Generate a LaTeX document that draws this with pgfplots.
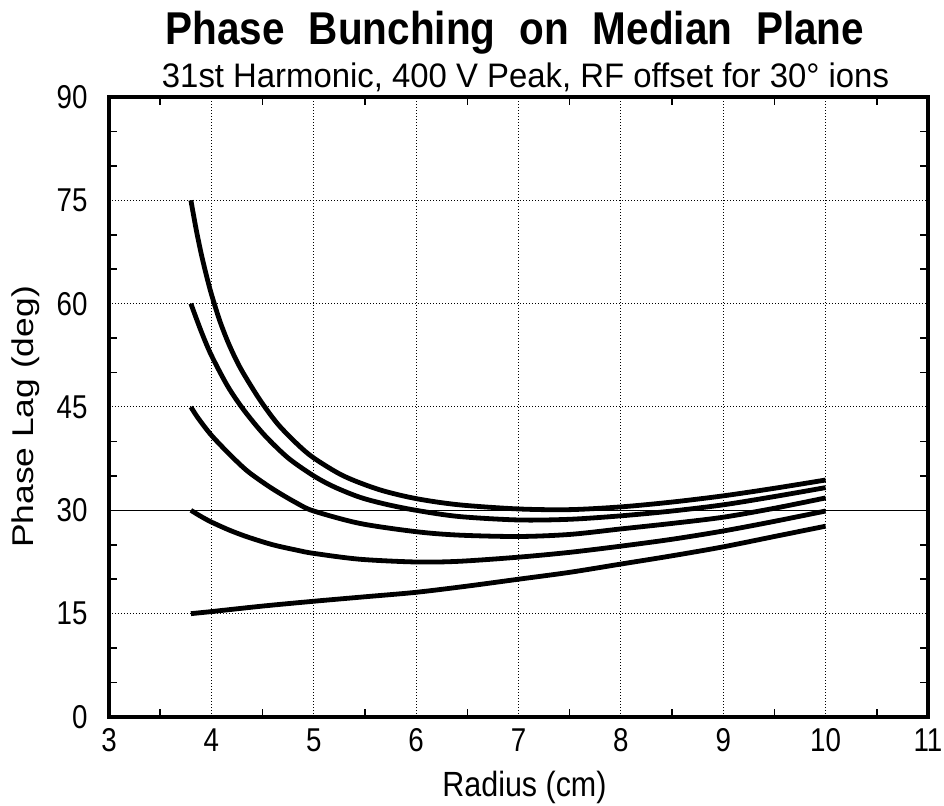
\documentclass[border=0pt]{standalone}
\usepackage{pgfplots}
\pgfplotsset{compat=1.18}
\usepackage{fontspec}
\setmainfont{Liberation Sans}
\newfontfamily\tickfont{Liberation Sans}[FakeStretch=0.84]
\newfontfamily\titlefont{Liberation Sans}[FakeStretch=0.88]
\newfontfamily\subfont{Liberation Sans}[FakeStretch=0.967]
\newfontfamily\xlabfont{Liberation Sans}[FakeStretch=0.87]
\newfontfamily\ylabfont{Liberation Sans}[FakeStretch=1.18]
\usetikzlibrary{calc}
\begin{document}
\begin{tikzpicture}
\begin{axis}[
  at={(0,0)}, anchor=south west,
  scale only axis,
  width=409.5pt, height=310pt,
  xmin=3, xmax=11, ymin=0, ymax=90,
  xtick={3,4,...,11}, ytick={0,15,...,90},
  minor x tick num=1, minor y tick num=2,
  tick align=inside,
  major tick length=0pt, minor tick length=4pt,
  every tick/.style={black, line width=0.8pt},
  axis line style={line width=1.6pt},
  grid=major,
  major grid style={black, line width=0.5pt, dash pattern=on 0.5pt off 1pt},
  /pgf/number format/assume math mode=true,
  ticklabel style={font=\tickfont\fontsize{16.5}{16.5}\selectfont},
  xticklabel style={yshift=-2.2pt},
  yticklabel style={xshift=-7.2pt},
  title={\titlefont\fontsize{23}{23}\selectfont\bfseries Phase\hspace{0.52em}Bunching\hspace{0.52em}on\hspace{0.52em}Median\hspace{0.52em}Plane},
  title style={at={(axis description cs:0.5,1)}, anchor=base, yshift=20.5pt, xshift=-1.75pt, inner sep=0pt},
  xlabel={Radius (cm)},
  xlabel style={font=\xlabfont\fontsize{17.5}{17.5}\selectfont, at={(axis description cs:0.5,0)}, anchor=base, yshift=-40pt, xshift=3pt, inner sep=0pt},
  ylabel={Phase Lag (deg)},
  ylabel style={font=\ylabfont\fontsize{15}{15}\selectfont, at={($(axis description cs:0,0.5)+(-37.5pt,-5pt)$)}, anchor=base, rotate=0, inner sep=0pt},
  extra description/.code={
    \node[anchor=base, inner sep=0pt, font=\subfont\fontsize{17}{17}\selectfont] at ($(0.5,1)+(3.5pt,5pt)$) {31st Harmonic, 400 V Peak, RF offset for 30° ions};
  },
  clip=false,
]
% reference line at 30
\addplot[black, line width=0.5pt] coordinates {(3,30) (11,30)};
% curve starting at 75
\addplot[black, line width=2.4pt, smooth] coordinates {
(3.8,75) (3.85,70.9) (3.9,67.3) (3.95,64.2) (4.0,61.4) (4.08,57.6) (4.16,54.5)
(4.24,51.9) (4.32,49.7) (4.48,45.9) (4.65,42.5) (4.84,39.6) (5.0,37.6)
(5.29,35.0) (5.64,33.0) (6.0,31.7) (6.42,30.8) (7.0,30.2)
(7.5,30.1) (8.0,30.5) (8.5,31.2) (9.0,32.1) (9.5,33.2) (10.0,34.4)};
% curve starting at 60
\addplot[black, line width=2.4pt, smooth] coordinates {
(3.8,60) (3.9,56.0) (4.0,52.5) (4.16,48.0) (4.32,44.5) (4.52,40.9) (4.75,37.6)
(5.0,35.0) (5.2,33.4) (5.45,31.9) (5.7,30.9) (6.0,30.0) (6.42,29.1) (7.0,28.6)
(7.5,28.7) (8.0,29.2) (8.5,29.9) (9.0,30.8) (9.5,32.0) (10.0,33.3)};
% curve starting at 45
\addplot[black, line width=2.4pt, smooth] coordinates {
(3.8,45) (3.87,43.4) (4.0,40.9) (4.18,38.1) (4.36,35.6) (4.6,33.1) (4.84,31.0)
(5.0,29.9) (5.45,28.1) (6.0,26.9) (6.42,26.4) (7.0,26.2) (7.5,26.5) (8.0,27.3)
(8.5,28.1) (9.0,29.0) (9.5,30.3) (10.0,31.8)};
% curve starting at 30
\addplot[black, line width=2.4pt, smooth] coordinates {
(3.8,30) (3.9,29.1) (4.0,28.3) (4.18,27.1) (4.36,26.1) (4.6,25.0) (4.84,24.2)
(5.0,23.75) (5.45,22.9) (6.0,22.5) (6.42,22.6) (7.0,23.2) (7.5,23.9) (8.0,24.8)
(8.5,25.8) (9.0,27.0) (9.5,28.4) (10.0,29.9)};
% curve starting at 15
\addplot[black, line width=2.4pt, smooth] coordinates {
(3.8,15.0) (4.0,15.3) (4.5,16.1) (5.0,16.8) (5.5,17.45) (6.0,18.1) (6.5,19.0)
(7.0,20.0) (7.5,21.0) (8.0,22.2) (8.5,23.4) (9.0,24.7) (9.5,26.2) (10.0,27.7)};
\end{axis}
\pgfresetboundingbox
\path[use as bounding box] (-54.5pt,-44.5pt) rectangle (417.5pt,358.5pt);
\end{tikzpicture}
\end{document}
